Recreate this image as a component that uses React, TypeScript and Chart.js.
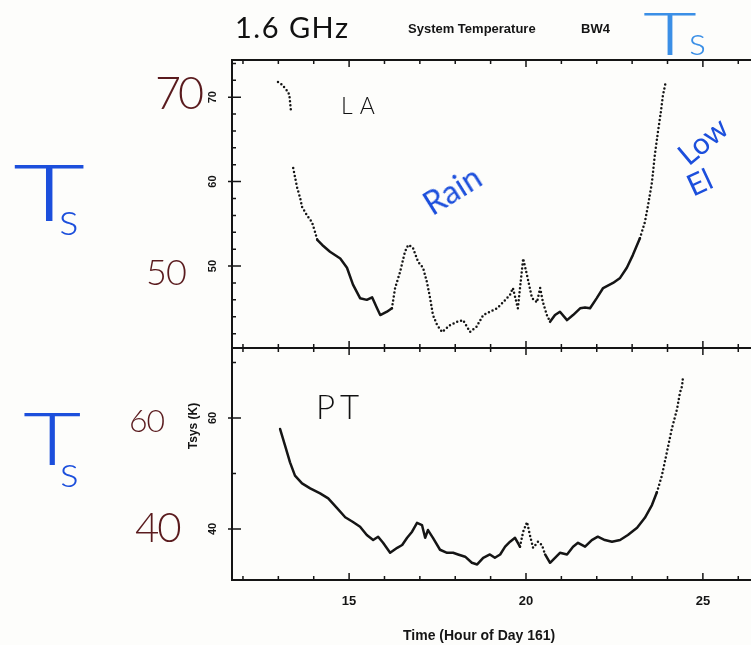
import React, { useEffect, useRef } from "react";
import { Chart, registerables } from "chart.js";

Chart.register(...registerables);

// ---- Data ----
const laTime = [
  12.99, 13.1, 13.24, 13.31, 13.36, 13.39, 13.42, 13.53, 13.62, 13.67, 13.81, 13.95, 14.04, 14.1,
  14.24, 14.46, 14.75, 14.94, 15.11, 15.31, 15.5, 15.65, 15.79, 15.88, 16.07, 16.21, 16.3, 16.44,
  16.58, 16.67, 16.8, 16.95, 17.09, 17.2, 17.29, 17.37, 17.49, 17.63, 17.85, 18.05, 18.22, 18.42,
  18.6, 18.79, 18.98, 19.18, 19.35, 19.55, 19.63, 19.77, 19.92, 20.03, 20.17, 20.31, 20.4, 20.48,
  20.59, 20.68, 20.82, 20.96, 21.16, 21.33, 21.53, 21.67, 21.81, 22.0, 22.18, 22.46, 22.66, 22.85,
  23.02, 23.22, 23.36, 23.45, 23.56, 23.64, 23.73, 23.81, 23.87, 23.95,
];
const laTsys = [
  71.8, 71.5, 70.8, 70.3, 68.2, null, 61.6, 59.3, 58.0, 57.0, 56.0, 55.2, 54.0, 53.1,
  52.5, 51.7, 50.9, 49.8, 47.8, 46.2, 46.0, 46.3, 45.0, 44.2, 44.6, 45.0, 47.4, 49.3,
  51.7, 52.5, 52.2, 50.5, 49.8, 48.1, 46.2, 44.2, 43.0, 42.2, 43.0, 43.4, 43.6, 42.2,
  42.8, 44.2, 44.6, 45.0, 45.7, 46.6, 47.4, 45.0, 50.9, 48.9, 46.2, 45.7, 47.4, 45.7,
  44.2, 43.4, 44.2, 44.6, 43.6, 44.2, 45.0, 45.1, 45.0, 46.2, 47.4, 48.0, 48.6, 49.8,
  51.3, 53.3, 55.2, 57.2, 59.9, 63.1, 65.9, 68.2, 70.2, 71.8,
];
const ptTime = [
  13.05, 13.19, 13.33, 13.47, 13.67, 13.9, 14.18, 14.41, 14.66, 14.89, 15.11, 15.31, 15.5, 15.68,
  15.82, 15.96, 16.16, 16.36, 16.5, 16.64, 16.78, 16.92, 17.06, 17.15, 17.23, 17.37, 17.57, 17.77,
  17.94, 18.08, 18.28, 18.47, 18.62, 18.79, 18.98, 19.12, 19.27, 19.41, 19.55, 19.69, 19.83, 19.92,
  20.03, 20.11, 20.2, 20.34, 20.45, 20.54, 20.68, 20.82, 20.96, 21.16, 21.33, 21.47, 21.67, 21.86,
  22.03, 22.23, 22.43, 22.66, 22.88, 23.14, 23.36, 23.56, 23.7, 23.84, 23.98, 24.12, 24.27, 24.35,
  24.41, 24.44,
];
const ptTsys = [
  58.0, 55.0, 52.0, 49.6, 48.2, 47.3, 46.4, 45.5, 43.75, 42.1, 41.25, 40.4, 38.9, 38.0,
  38.6, 37.5, 35.7, 36.6, 37.1, 38.4, 39.5, 41.1, 40.7, 38.4, 39.8, 38.4, 36.25, 35.7,
  35.7, 35.4, 35.0, 33.9, 33.6, 34.8, 35.4, 34.8, 35.4, 36.8, 37.7, 38.4, 36.8, 39.5,
  41.25, 38.9, 36.6, 37.7, 37.1, 35.4, 33.9, 34.8, 35.7, 35.4, 36.8, 37.5, 36.8, 38.0,
  38.6, 38.0, 37.7, 38.0, 38.9, 40.2, 42.0, 44.3, 46.6, 49.6, 53.75, 58.0, 61.6, 64.5,
  65.7, 67.5,
];
const xTickLabels = [15, 20, 25];
const laTickLabels = [50, 60, 70];
const ptTickLabels = [40, 60];

// ---- Styles ----
const laDotted = [[0, 14.1], [16.2, 20.75], [23.2, 99]];
const ptDotted = [[19.8, 20.6], [23.75, 99]];
const INK = "#151515";

const dashFor = (ranges: number[][]) => (ctx: any) => {
  const xm = (ctx.p0.parsed.x + ctx.p1.parsed.x) / 2;
  return ranges.some(([a, b]) => xm >= a && xm < b) ? [0, 4] : undefined;
};

const framePlugin = {
  id: "frame",
  afterDatasetsDraw(chart: any) {
    const { ctx, chartArea, scales } = chart;
    const xs = scales.x;
    const left = chartArea.left;
    const right = chartArea.right;
    ctx.save();
    ctx.strokeStyle = INK;
    ctx.fillStyle = INK;
    const panels = [
      { id: "yLA", step: 2, majorEvery: 10, labels: laTickLabels },
      { id: "yPT", step: 10, majorEvery: 20, labels: ptTickLabels },
    ];
    for (const p of panels) {
      const ys = scales[p.id];
      ctx.lineWidth = 2;
      ctx.beginPath();
      ctx.moveTo(left, ys.top);
      ctx.lineTo(right + 2, ys.top);
      ctx.moveTo(left, ys.bottom);
      ctx.lineTo(right + 2, ys.bottom);
      ctx.moveTo(left, ys.top - 1);
      ctx.lineTo(left, ys.bottom + 1);
      ctx.stroke();
      ctx.lineWidth = 1.5;
      ctx.beginPath();
      for (let h = Math.ceil(xs.min); h <= xs.max; h++) {
        const px = xs.getPixelForValue(h);
        const len = h % 5 === 0 ? 7 : 4;
        ctx.moveTo(px, ys.top);
        ctx.lineTo(px, ys.top + len);
        ctx.moveTo(px, ys.bottom);
        ctx.lineTo(px, ys.bottom - len);
      }
      for (let v = Math.ceil(ys.min / p.step) * p.step; v <= ys.max; v += p.step) {
        const py = ys.getPixelForValue(v);
        const major = v % p.majorEvery === 0 || p.labels.includes(v);
        ctx.moveTo(left - (major ? 4 : 0), py);
        ctx.lineTo(left + (major ? 9 : 4), py);
      }
      ctx.stroke();
      ctx.font = "bold 11px 'Liberation Sans', Arial, sans-serif";
      ctx.textAlign = "center";
      ctx.textBaseline = "middle";
      for (const v of p.labels) {
        const py = ys.getPixelForValue(v);
        ctx.save();
        ctx.translate(213, py);
        ctx.rotate(-Math.PI / 2);
        ctx.fillText(String(v), 0, 0);
        ctx.restore();
      }
    }
    const yb = scales.yPT.bottom;
    ctx.font = "bold 13px 'Liberation Sans', Arial, sans-serif";
    ctx.textAlign = "center";
    ctx.textBaseline = "middle";
    for (const v of xTickLabels) {
      ctx.fillText(String(v), xs.getPixelForValue(v), yb + 21);
    }
    ctx.restore();
  },
};

const hand = "Lato, 'Open Sans', 'DejaVu Sans', sans-serif";
const abs = (style: React.CSSProperties): React.CSSProperties => ({
  position: "absolute",
  lineHeight: 1,
  whiteSpace: "nowrap",
  margin: 0,
  fontWeight: 300,
  ...style,
});

const hiddenAxis = {
  grid: { display: false, drawTicks: false, tickLength: 0 },
  ticks: { display: false, padding: 0 },
  border: { display: false },
  title: { display: false },
};

export default function App() {
  const ref = useRef<HTMLCanvasElement>(null);
  useEffect(() => {
    if (!ref.current) return;
    const chart = new Chart(ref.current, {
      type: "line",
      data: {
        datasets: [
          {
            label: "LA",
            data: laTime.map((t, i) => ({ x: t, y: laTsys[i] })) as any,
            yAxisID: "yLA",
            borderColor: INK,
            borderWidth: 2.5,
            borderCapStyle: "round",
            borderJoinStyle: "round",
            pointRadius: 0,
            tension: 0,
            spanGaps: false,
            segment: { borderDash: dashFor(laDotted) },
          },
          {
            label: "PT",
            data: ptTime.map((t, i) => ({ x: t, y: ptTsys[i] })) as any,
            yAxisID: "yPT",
            borderColor: INK,
            borderWidth: 2.5,
            borderCapStyle: "round",
            borderJoinStyle: "round",
            pointRadius: 0,
            tension: 0,
            segment: { borderDash: dashFor(ptDotted) },
          },
        ],
      },
      options: {
        animation: false,
        responsive: false,
        devicePixelRatio: 1,
        layout: { padding: { left: 232, top: 60, right: 0, bottom: 65 } },
        plugins: { legend: { display: false }, tooltip: { enabled: false }, title: { display: false } },
        scales: {
          x: { type: "linear", min: 11.69, max: 26.36, ...hiddenAxis },
          yLA: {
            type: "linear",
            position: "left",
            stack: "panels",
            stackWeight: 288,
            weight: 2,
            min: 40.3,
            max: 74.4,
            ...hiddenAxis,
          },
          yPT: {
            type: "linear",
            position: "left",
            stack: "panels",
            stackWeight: 232,
            weight: 1,
            min: 30.8,
            max: 72.6,
            ...hiddenAxis,
          },
        },
      },
      plugins: [framePlugin],
    });
    return () => chart.destroy();
  }, []);

  const blue = "#1c4fdc";
  const lightBlue = "#3b8fe6";
  const maroon = "#5a1b1e";

  return (
    <div style={{ position: "absolute", left: 0, top: 0, width: 751, height: 645, background: "#fdfdfb", overflow: "hidden" }}>
      <canvas ref={ref} width={751} height={645} style={{ position: "absolute", left: 0, top: 0 }} />

      {/* printed text */}
      <div style={abs({ left: 408, top: 21, font: "bold 13px 'Liberation Sans', Arial, sans-serif", color: INK })}>System Temperature</div>
      <div style={abs({ left: 581, top: 21, font: "bold 13px 'Liberation Sans', Arial, sans-serif", color: INK })}>BW4</div>
      <div style={abs({ left: 403, top: 627, font: "bold 14px 'Liberation Sans', Arial, sans-serif", color: INK })}>Time (Hour of Day 161)</div>
      <div style={abs({ left: 193, top: 426, font: "bold 12px 'Liberation Sans', Arial, sans-serif", color: INK, transform: "translate(-50%, -50%) rotate(-90deg)" })}>Tsys (K)</div>

      {/* handwritten annotations */}
      <div style={abs({ left: 235, top: 12, fontFamily: hand, fontSize: 29, color: "#111", letterSpacing: 1.5, fontWeight: 400 })}>1.6 GHz</div>
      <div style={abs({ left: 341, top: 94, fontFamily: hand, fontSize: 23, color: "#111", letterSpacing: 7 })}>LA</div>
      <div style={abs({ left: 316, top: 390, fontFamily: hand, fontSize: 33, color: "#111", letterSpacing: 5 })}>PT</div>

      <div style={abs({ left: 643, top: 2, fontFamily: hand, fontSize: 60, color: lightBlue, transform: "scaleX(1.55)", transformOrigin: "left top" })}>T</div>
      <div style={abs({ left: 689, top: 20, fontFamily: hand, fontSize: 40, color: lightBlue })}>s</div>

      <div style={abs({ left: 13, top: 152, fontFamily: hand, fontSize: 78, color: blue, transform: "scaleX(1.6)", transformOrigin: "left top" })}>T</div>
      <div style={abs({ left: 59, top: 195, fontFamily: hand, fontSize: 46, color: blue })}>s</div>
      <div style={abs({ left: 23, top: 401, fontFamily: hand, fontSize: 72, color: blue, transform: "scaleX(1.4)", transformOrigin: "left top" })}>T</div>
      <div style={abs({ left: 60, top: 448, fontFamily: hand, fontSize: 44, color: blue })}>s</div>

      <div style={abs({ left: 155, top: 70, fontFamily: hand, fontSize: 45, color: maroon, letterSpacing: -3 })}>70</div>
      <div style={abs({ left: 146, top: 253, fontFamily: hand, fontSize: 36, color: maroon, letterSpacing: -1 })}>50</div>
      <div style={abs({ left: 129, top: 404, fontFamily: hand, fontSize: 32, color: maroon, letterSpacing: -1 })}>60</div>
      <div style={abs({ left: 135, top: 505, fontFamily: hand, fontSize: 42, color: maroon, letterSpacing: -2 })}>40</div>

      <div style={abs({ left: 452, top: 190, fontFamily: hand, fontSize: 32, color: blue, fontWeight: 400, transform: "translate(-50%, -50%) rotate(-32deg)" })}>Rain</div>
      <div style={abs({ left: 702, top: 140, fontFamily: hand, fontSize: 30, color: blue, fontWeight: 400, transform: "translate(-50%, -50%) rotate(-40deg)" })}>Low</div>
      <div style={abs({ left: 699, top: 181, fontFamily: hand, fontSize: 30, color: blue, fontWeight: 400, transform: "translate(-50%, -50%) rotate(-25deg)" })}>El</div>
    </div>
  );
}
